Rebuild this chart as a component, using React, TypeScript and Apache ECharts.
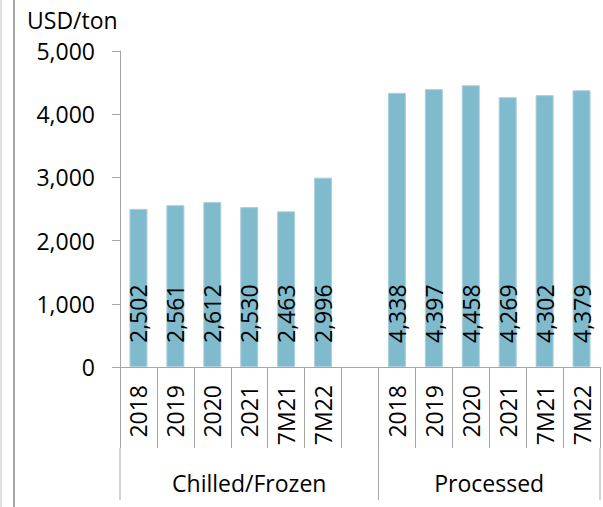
import React, { useEffect, useRef } from "react";
import * as echarts from "echarts";

const categories = ["2018", "2019", "2020", "2021", "7M21", "7M22", "", "2018", "2019", "2020", "2021", "7M21", "7M22"];
const chilledFrozen = [2502, 2561, 2612, 2530, 2463, 2996];
const processed = [4338, 4397, 4458, 4269, 4302, 4379];
const groupLabels = ["Chilled/Frozen", "Processed"];
const groupBounds = [0, 7, 13];
const yTicks = { min: 0, max: 5000, interval: 1000 };
const unitLabel = "USD/ton";

const FONT = "'Open Sans', sans-serif";
const fmt = (v: number) => v.toLocaleString("en-US");

export default function App() {
  const ref = useRef<HTMLDivElement>(null);
  useEffect(() => {
    document.body.style.margin = "0";
    const chart = echarts.init(ref.current!, undefined, { renderer: "svg" });
    const values: any[] = [...chilledFrozen, "-", ...processed];
    const axisColor = "#A6A6A6";
    chart.setOption({
      animation: false,
      textStyle: { fontFamily: FONT },
      grid: { left: 120, top: 51, width: 480, height: 316, containLabel: false },
      xAxis: {
        type: "category",
        data: categories,
        boundaryGap: true,
        axisLine: { show: true, lineStyle: { color: axisColor, width: 1 } },
        axisTick: { show: true, interval: 0, alignWithLabel: false, length: 81, lineStyle: { color: axisColor } },
        axisLabel: { interval: 0, rotate: 90, margin: 18, fontSize: 23, color: "#000", fontFamily: FONT },
      },
      yAxis: {
        type: "value",
        min: yTicks.min,
        max: yTicks.max,
        interval: yTicks.interval,
        axisLine: { show: true, lineStyle: { color: axisColor } },
        axisTick: { show: true, length: 8, lineStyle: { color: axisColor } },
        splitLine: { show: false },
        axisLabel: { margin: 25, fontSize: 23, color: "#000", fontFamily: FONT, formatter: (v: number) => fmt(v) },
      },
      series: [
        {
          type: "bar",
          data: values,
          barWidth: 18,
          itemStyle: { color: "#80BBCD", borderColor: "#A9D0DC", borderWidth: 1 },
          label: {
            show: true,
            position: "insideBottom",
            rotate: 90,
            align: "left",
            verticalAlign: "middle",
            distance: 24,
            fontSize: 23,
            color: "#000",
            fontFamily: FONT,
            formatter: (p: any) => fmt(p.value),
          },
        },
      ],
    });

    const p0 = chart.convertToPixel({ xAxisIndex: 0 }, 0) as number;
    const p1 = chart.convertToPixel({ xAxisIndex: 0 }, 1) as number;
    const band = p1 - p0;
    const bx = (i: number) => p0 - band / 2 + i * band;
    const y0 = chart.convertToPixel({ yAxisIndex: 0 }, 0) as number;
    const lineTop = y0 + 81;
    const lineBottom = 500;
    const graphics: any[] = [];
    groupBounds.forEach((b) => {
      graphics.push({
        type: "line",
        shape: { x1: bx(b), y1: lineTop, x2: bx(b), y2: lineBottom },
        style: { stroke: axisColor, lineWidth: 1 },
      });
    });
    groupLabels.forEach((t, i) => {
      graphics.push({
        type: "text",
        x: (bx(groupBounds[i]) + bx(groupBounds[i + 1])) / 2,
        y: 483,
        style: { text: t, fontSize: 23, fontFamily: FONT, fill: "#000", textAlign: "center", textVerticalAlign: "middle" },
      });
    });
    graphics.push({
      type: "text",
      x: 27,
      y: 20,
      style: { text: unitLabel, fontSize: 23, fontFamily: FONT, fill: "#000", textAlign: "left", textVerticalAlign: "middle" },
    });
    graphics.push({ type: "line", shape: { x1: 1, y1: 0, x2: 1, y2: 507 }, style: { stroke: "#BFBFBF", lineWidth: 1 } });
    graphics.push({ type: "line", shape: { x1: 14, y1: 0, x2: 14, y2: 507 }, style: { stroke: "#A6A6A6", lineWidth: 2 } });
    chart.setOption({ graphic: graphics });

    return () => chart.dispose();
  }, []);
  return <div ref={ref} style={{ position: "absolute", left: 0, top: 0, width: 603, height: 507 }} />;
}
